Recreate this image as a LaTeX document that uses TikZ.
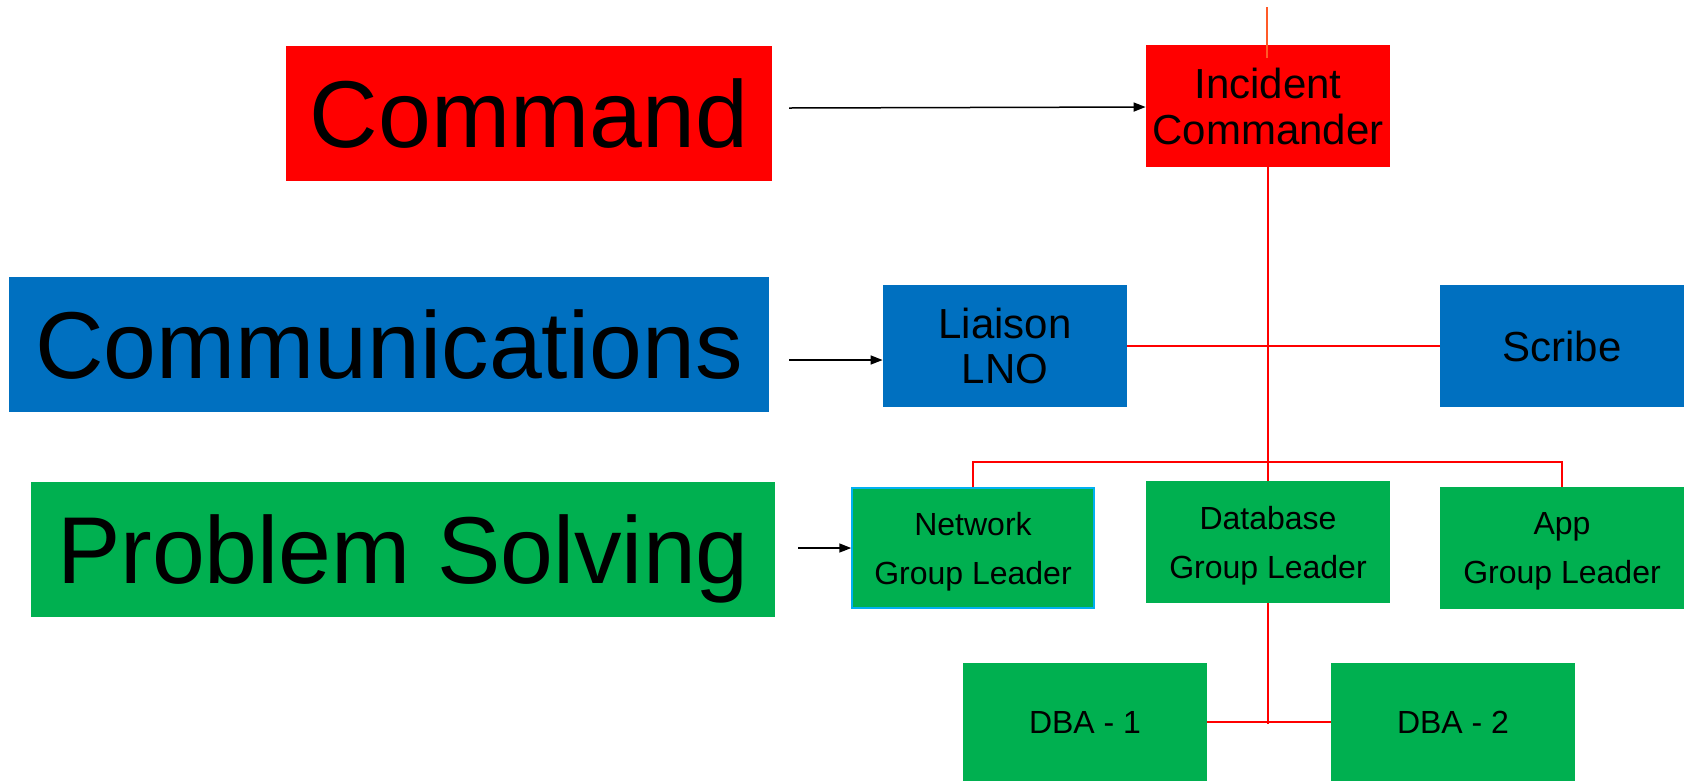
\documentclass[tikz,border=0pt]{standalone}
\usepackage{fontspec}
\setmainfont{Liberation Sans}
\usetikzlibrary{arrows.meta}
\definecolor{cred}{RGB}{255,0,0}
\definecolor{cblue}{RGB}{0,112,192}
\definecolor{cgreen}{RGB}{0,176,80}
\definecolor{cborder}{RGB}{0,176,240}
\definecolor{corange}{RGB}{255,90,40}
\tikzset{
  bigbox/.style={inner sep=0pt, minimum height=67.5pt, text=black, text depth=0pt, font=\fontsize{47.5}{52}\selectfont},
  orgbox/.style={inner sep=0pt, minimum width=122pt, minimum height=61pt, align=center, text=black, text depth=0pt},
  midfont/.style={font=\fontsize{21}{23}\selectfont},
  smallfont/.style={font=\fontsize{16}{24.5}\selectfont},
  link/.style={draw=cred, line width=1pt},
  pointer/.style={draw=black, line width=0.75pt, -{Triangle[length=6pt,width=4.5pt]}}
}
\begin{document}
\begin{tikzpicture}[x=0.5pt,y=-0.5pt]
\useasboundingbox (0,0) rectangle (1684,783);
% left labels
\node[bigbox, fill=cred, minimum width=243pt] (cmd) at (529,113) {Command};
\node[bigbox, fill=cblue, minimum width=380pt] (comm) at (389,344) {Communications};
\node[bigbox, fill=cgreen, minimum width=372pt] (prob) at (403,549.5) {Problem Solving};
% org chart
\node[orgbox, midfont, fill=cred] (ic) at (1268,106) {Incident\\Commander};
\node[orgbox, font=\fontsize{21}{22.5}\selectfont, fill=cblue] (lno) at (1005,346) {Liaison\\LNO};
\node[orgbox, midfont, fill=cblue] (scribe) at (1562,346) {Scribe};
\node[orgbox, smallfont, fill=cgreen, draw=cborder, line width=0.75pt, minimum width=121pt, minimum height=60pt] (net) at (973,548) {Network\\Group Leader};
\node[orgbox, smallfont, fill=cgreen] (db) at (1268,542) {Database\\Group Leader};
\node[orgbox, smallfont, fill=cgreen] (app) at (1562,548) {App\\Group Leader};
\node[orgbox, smallfont, fill=cgreen, minimum height=59pt] (dba1) at (1085,722) {DBA - 1};
\node[orgbox, smallfont, fill=cgreen, minimum height=59pt] (dba2) at (1453,722) {DBA - 2};
% connectors
\coordinate (topend) at (1267,7);
\coordinate (topin) at (1267,58);
\draw[draw=corange, line width=0.75pt] (topend) -- (topin);
\draw[link] (ic.south) -- (db.north);
\draw[link] (net.north) |- (1268,462) -| (app.north);
\draw[link] (lno.east) -- (scribe.west);
\draw[link] (db.south) -- (1268,724);
\draw[link] (dba1.east) -- (dba2.west);
\coordinate (cmdtail) at (789,108);
\coordinate (commtail) at (789,360);
\coordinate (probtail) at (798,548);
\draw[pointer] (cmdtail) -- (ic.west |- 0,107);
\draw[pointer] (commtail) -- (lno.west |- 0,360);
\draw[pointer] (probtail) -- (net.west);
\end{tikzpicture}
\end{document}
